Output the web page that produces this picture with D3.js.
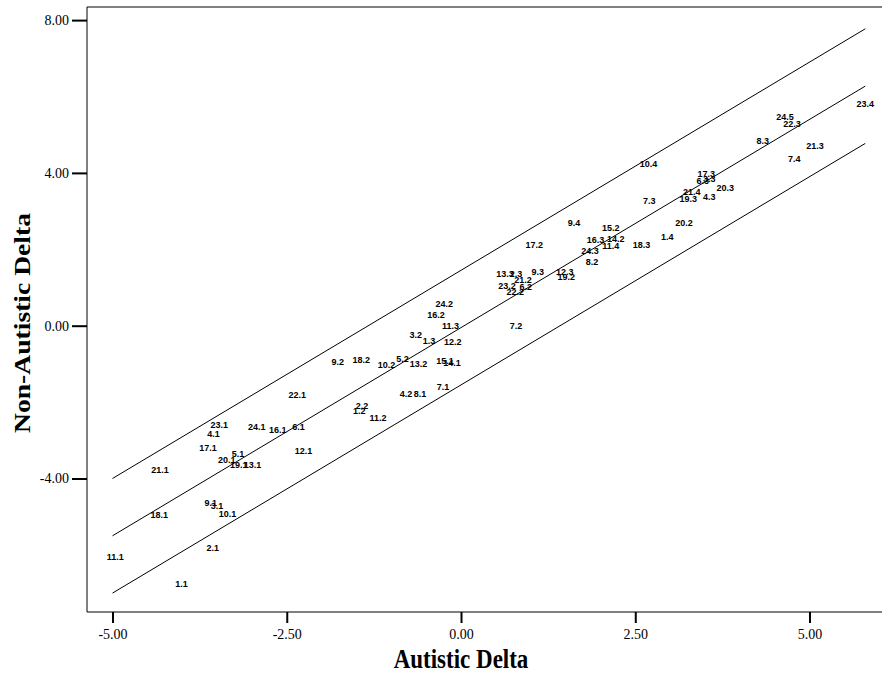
<!DOCTYPE html>
<html lang="en">
<head>
    <meta charset="UTF-8">
    <title>Non-Autistic Delta vs Autistic Delta</title>
    <script src="https://d3js.org/d3.v7.min.js"></script>
    <style>
        body { margin: 0; background: #fff; }
        .pt { font-family: "Liberation Sans", Arial, sans-serif; font-size: 9px; font-weight: bold; }
        .tick text { font-family: "Liberation Serif", "Times New Roman", serif; font-size: 14px; }
        .title { font-family: "Liberation Serif", "Times New Roman", serif; font-size: 23px; font-weight: bold; }
    </style>
</head>
<body>
    <svg id="chart" width="884" height="673"></svg>

    <script>
        // point labels (subject.session) with positions
        const labels = [
            "22.1", "23.1", "4.1", "24.1", "16.1", "6.1", "17.1", "12.1", "5.1", "20.1",
            "19.1", "13.1", "21.1", "9.1", "3.1", "10.1", "18.1", "11.1", "2.1", "1.1",
            "24.2", "16.2", "11.3", "3.2", "1.3", "12.2", "9.2", "18.2", "10.2", "5.2",
            "13.2", "15.1", "14.1", "4.2", "8.1", "7.1", "2.2", "1.2", "11.2",
            "9.4", "15.2", "16.3", "14.2", "11.4", "17.2", "24.3", "18.3", "1.4", "20.2",
            "8.2", "13.3", "2.3", "9.3", "12.3", "19.2", "23.2", "21.2", "6.2", "22.2", "7.2",
            "24.5", "22.3", "23.4", "8.3", "21.3", "7.4", "10.4", "17.3", "6.3", "3.3",
            "20.3", "21.4", "4.3", "19.3", "7.3"
        ];
        const autistic = [
            -2.35, -3.47, -3.55, -2.93, -2.63, -2.33, -3.63, -2.26, -3.20, -3.36,
            -3.19, -2.99, -4.32, -3.59, -3.50, -3.35, -4.33, -4.96, -3.56, -4.01,
            -0.24, -0.36, -0.15, -0.65, -0.46, -0.12, -1.77, -1.43, -1.07, -0.84,
            -0.61, -0.23, -0.13, -0.79, -0.59, -0.26, -1.42, -1.46, -1.19,
            1.62, 2.15, 1.93, 2.22, 2.15, 1.05, 1.85, 2.59, 2.96, 3.20,
            1.88, 0.63, 0.79, 1.10, 1.49, 1.51, 0.66, 0.89, 0.93, 0.78, 0.79,
            4.65, 4.75, 5.80, 4.33, 5.08, 4.78, 2.69, 3.52, 3.47, 3.56,
            3.79, 3.31, 3.56, 3.26, 2.70
        ];
        const nonAutistic = [
            -1.80, -2.60, -2.82, -2.64, -2.73, -2.65, -3.21, -3.27, -3.36, -3.52,
            -3.65, -3.65, -3.78, -4.63, -4.71, -4.93, -4.95, -6.06, -5.81, -6.76,
            0.56, 0.28, 0.00, -0.24, -0.40, -0.42, -0.94, -0.90, -1.02, -0.88,
            -1.00, -0.92, -0.98, -1.79, -1.79, -1.61, -2.09, -2.23, -2.40,
            2.70, 2.56, 2.24, 2.27, 2.09, 2.11, 1.96, 2.12, 2.33, 2.68,
            1.68, 1.35, 1.35, 1.41, 1.41, 1.28, 1.05, 1.20, 1.01, 0.89, -0.01,
            5.47, 5.28, 5.82, 4.84, 4.71, 4.38, 4.23, 3.97, 3.80, 3.84,
            3.62, 3.51, 3.38, 3.31, 3.26
        ];

        // fitted line and band
        const lineRange = [-5.0, 5.8];
        const fitSlope = 1.09;
        const fitIntercepts = [1.45, -0.05, -1.55];

        const xTicks = [-5, -2.5, 0, 2.5, 5];
        const yTicks = [-4, 0, 4, 8];

        const svg = d3.select('#chart');
        const plotLeft = 87, plotTop = 7, plotRight = 882, plotBottom = 612;

        const x = d3.scaleLinear().domain([-5.366, 6.04]).range([plotLeft, plotRight]);
        const y = d3.scaleLinear().domain([-7.495, 8.343]).range([plotBottom, plotTop]);

        // plain hyphen for negatives, like the original
        const fmt = d => d3.format('.2f')(d).replace('\u2212', '-');

        // frame (top, left, bottom)
        svg.append('path')
            .attr('d', `M${plotRight},${plotTop}H${plotLeft}V${plotBottom}H${plotRight}`)
            .attr('fill', 'none')
            .attr('stroke', '#000')
            .attr('stroke-width', 1);

        // axes
        const xAxis = svg.append('g')
            .attr('transform', `translate(0,${plotBottom})`)
            .call(d3.axisBottom(x).tickValues(xTicks).tickFormat(fmt).tickSize(11).tickSizeOuter(0).tickPadding(6));
        const yAxis = svg.append('g')
            .attr('transform', `translate(${plotLeft},0)`)
            .call(d3.axisLeft(y).tickValues(yTicks).tickFormat(fmt).tickSize(15).tickSizeOuter(0).tickPadding(3));
        [xAxis, yAxis].forEach(g => {
            g.select('.domain').remove();
            g.selectAll('.tick line').attr('stroke', '#000').attr('stroke-width', 2);
            g.selectAll('.tick text').attr('fill', '#000');
        });

        // three parallel lines
        svg.selectAll('line.fit')
            .data(fitIntercepts)
            .enter().append('line')
            .attr('class', 'fit')
            .attr('x1', x(lineRange[0]))
            .attr('y1', b => y(b + fitSlope * lineRange[0]))
            .attr('x2', x(lineRange[1]))
            .attr('y2', b => y(b + fitSlope * lineRange[1]))
            .attr('stroke', '#000')
            .attr('stroke-width', 1);

        // labelled points
        svg.selectAll('text.pt')
            .data(labels)
            .enter().append('text')
            .attr('class', 'pt')
            .attr('x', (d, i) => x(autistic[i]))
            .attr('y', (d, i) => y(nonAutistic[i]))
            .attr('text-anchor', 'middle')
            .attr('dy', '0.35em')
            .text(d => d);

        // axis titles (the scan is a little stretched vertically)
        svg.append('text')
            .attr('class', 'title')
            .attr('transform', `translate(${x(0)},668) scale(1,1.2)`)
            .attr('text-anchor', 'middle')
            .text('Autistic Delta');

        svg.append('text')
            .attr('class', 'title')
            .attr('transform', `translate(30,323) scale(1,1.2) rotate(-90)`)
            .attr('text-anchor', 'middle')
            .text('Non-Autistic Delta');
    </script>
</body>
</html>
